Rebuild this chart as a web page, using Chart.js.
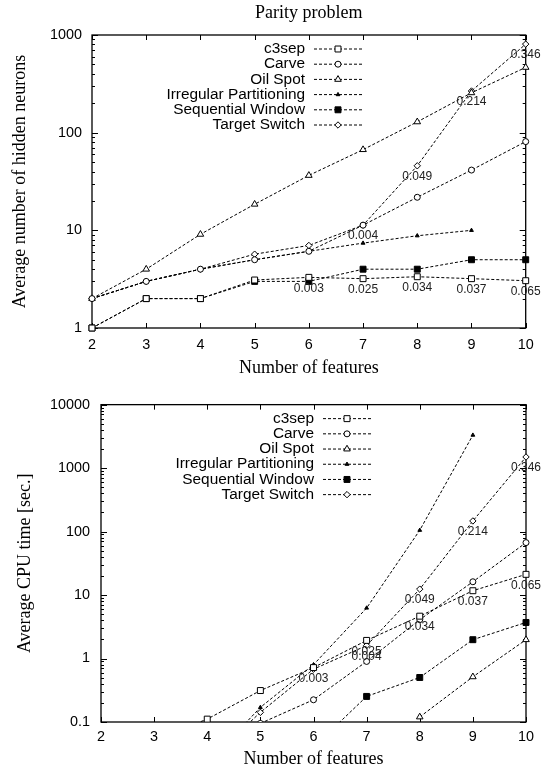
<!DOCTYPE html>
<html>
<head>
<meta charset="utf-8">
<title>Parity problem</title>
<script src="https://cdn.jsdelivr.net/npm/chart.js@4.4.1/dist/chart.umd.min.js"></script>
<style>
  body { margin: 0; background: #fff; }
  canvas { display: block; }
</style>
</head>
<body>
<canvas id="neuronsChart" width="542" height="385"></canvas>
<canvas id="cpuChart" width="542" height="385"></canvas>
<script>
const features = [2, 3, 4, 5, 6, 7, 8, 9, 10];
const seriesNames = ['c3sep', 'Carve', 'Oil Spot', 'Irregular Partitioning', 'Sequential Window', 'Target Switch'];

// Average number of hidden neurons
const c3sepNeurons = [1, 2, 2, 3.1, 3.3, 3.2, 3.35, 3.2, 3.05];
const carveNeurons = [2, 3, 4, 5, 6.1, 11.3, 21.8, 41.4, 81];
const oilSpotNeurons = [2, 4, 9.1, 18.5, 36.5, 67, 129, 256, 466];
const irregularNeurons = [2, 3, 4, 5, 6.1, 7.4, 8.8, 10, null];
const seqWindowNeurons = [1, 2, 2, 3, 3, 4, 4, 5, 5];
const targetNeurons = [2, 3, 4, 5.7, 7, 11.3, 45.8, 267, 807];

// Average CPU time [sec.]
const c3sepCpu = [null, 0.053, 0.111, 0.313, 0.72, 1.93, 4.65, 11.7, 21.2];
const carveCpu = [null, null, null, 0.095, 0.224, 0.9, 4.1, 16.2, 67];
const oilSpotCpu = [null, null, null, null, null, null, 0.12, 0.515, 1.98];
const irregularCpu = [null, null, 0.022, 0.17, 0.8, 6.25, 105, 3311, null];
const seqWindowCpu = [null, null, null, null, 0.04, 0.253, 0.503, 1.98, 3.7];
const targetCpu = [null, null, 0.023, 0.142, 0.68, 1.6, 12.4, 147, 1497];

// numbers printed under the c3sep and Target Switch points
const c3sepNotes = [null, null, null, null, '0.003', '0.025', '0.034', '0.037', '0.065'];
const targetNotes = [null, null, null, null, null, '0.004', '0.049', '0.214', '0.346'];

const neuronTicks = [1, 10, 100, 1000];
const cpuTicks = [0.1, 1, 10, 100, 1000, 10000];

const sansFont = '"Liberation Sans", Arial, sans-serif';
const serifFont = '"Liberation Serif", "Times New Roman", serif';

// gnuplot-like point types
const markers = [
    { pointStyle: 'rect', radius: 4.2, fill: '#fff' },
    { pointStyle: 'circle', radius: 3, fill: '#fff' },
    { pointStyle: 'triangle', radius: 3.8, fill: '#fff' },
    { pointStyle: 'triangle', radius: 2.2, fill: '#000' },
    { pointStyle: 'rect', radius: 4.2, fill: '#000' },
    { pointStyle: 'rectRot', radius: 3.2, fill: '#fff' }
];

function sameValue(a, b) {
    return Math.abs(Math.log10(a) - Math.log10(b)) < 1e-6;
}

// 1,2,...,9 in every decade between the labelled ticks
function logTicks(majors) {
    const out = [];
    for (let i = 0; i < majors.length - 1; i++) {
        for (let k = 1; k < 10; k++) out.push(majors[i] * k);
    }
    out.push(majors[majors.length - 1]);
    return out;
}

// box around the plot with inward ticks
const framePlugin = {
    id: 'frame',
    beforeDatasetsDraw(chart, args, opts) {
        const { ctx, chartArea: a, scales: { x, y } } = chart;
        ctx.save();
        ctx.strokeStyle = '#000';
        ctx.lineWidth = 1.3;
        ctx.strokeRect(a.left, a.top, a.width, a.height);
        ctx.lineWidth = 1;
        ctx.beginPath();
        x.ticks.forEach(t => {
            const px = Math.round(x.getPixelForValue(t.value)) + 0.5;
            ctx.moveTo(px, a.bottom); ctx.lineTo(px, a.bottom - 5);
            ctx.moveTo(px, a.top); ctx.lineTo(px, a.top + 5);
        });
        y.ticks.forEach(t => {
            const py = Math.round(y.getPixelForValue(t.value)) + 0.5;
            const len = opts.majors.some(m => sameValue(m, t.value)) ? 6 : 3;
            ctx.moveTo(a.left, py); ctx.lineTo(a.left + len, py);
            ctx.moveTo(a.right, py); ctx.lineTo(a.right - len, py);
        });
        ctx.stroke();
        ctx.restore();
    }
};

// key in the upper left, text right-aligned before the sample
const keyPlugin = {
    id: 'key',
    afterDatasetsDraw(chart) {
        const { ctx, chartArea: a } = chart;
        ctx.save();
        ctx.font = '15.4px ' + sansFont;
        ctx.textAlign = 'right';
        ctx.textBaseline = 'middle';
        chart.data.datasets.forEach((ds, i) => {
            const yy = a.top + 14 + i * 15.2;
            ctx.fillStyle = '#000';
            ctx.fillText(ds.label, a.left + 213, yy);
            ctx.strokeStyle = '#000';
            ctx.lineWidth = 1;
            ctx.setLineDash([3, 2]);
            ctx.beginPath();
            ctx.moveTo(a.left + 222, yy);
            ctx.lineTo(a.left + 270, yy);
            ctx.stroke();
            ctx.setLineDash([]);
            ctx.fillStyle = ds.pointBackgroundColor;
            Chart.helpers.drawPoint(ctx, {
                pointStyle: ds.pointStyle, radius: ds.pointRadius, rotation: 0, borderWidth: 1
            }, a.left + 246, yy);
        });
        ctx.restore();
    }
};

const notesPlugin = {
    id: 'notes',
    afterDatasetsDraw(chart) {
        const { ctx, scales: { x, y } } = chart;
        ctx.save();
        ctx.font = '12px ' + sansFont;
        ctx.fillStyle = '#222';
        ctx.textAlign = 'center';
        ctx.textBaseline = 'middle';
        chart.data.datasets.forEach(ds => {
            if (!ds.notes) return;
            ds.notes.forEach((n, i) => {
                const p = ds.data[i];
                if (!n || p.y == null) return;
                ctx.fillText(n, x.getPixelForValue(p.x), y.getPixelForValue(p.y) + 11);
            });
        });
        ctx.restore();
    }
};

const headingPlugin = {
    id: 'heading',
    afterDraw(chart, args, opts) {
        if (!opts.text) return;
        const { ctx, chartArea: a } = chart;
        ctx.save();
        ctx.font = '18px ' + serifFont;
        ctx.fillStyle = '#000';
        ctx.textAlign = 'center';
        ctx.textBaseline = 'middle';
        ctx.fillText(opts.text, (a.left + a.right) / 2, 13);
        ctx.restore();
    }
};

function buildChart(canvasId, values, yTicks, cfg) {
    const datasets = seriesNames.map((name, i) => ({
        label: name,
        data: features.map((f, j) => ({ x: f, y: values[i][j] })),
        borderColor: '#000',
        borderWidth: 1,
        borderDash: [3, 2],
        pointStyle: markers[i].pointStyle,
        pointRadius: markers[i].radius,
        pointBackgroundColor: markers[i].fill,
        pointBorderColor: '#000',
        pointBorderWidth: 1,
        tension: 0,
        clip: cfg.clip,
        notes: i === 0 ? c3sepNotes : (i === 5 ? targetNotes : null)
    }));

    return new Chart(document.getElementById(canvasId), {
        type: 'line',
        data: { datasets },
        options: {
            responsive: false,
            animation: false,
            events: [],
            layout: { padding: { top: cfg.top, right: 16, left: 0, bottom: 0 } },
            plugins: {
                legend: { display: false },
                tooltip: { enabled: false },
                frame: { majors: yTicks },
                heading: { text: cfg.heading }
            },
            scales: {
                x: {
                    type: 'linear',
                    min: 2,
                    max: 10,
                    grid: { display: false, drawTicks: false },
                    border: { display: false },
                    afterBuildTicks: s => { s.ticks = features.map(v => ({ value: v })); },
                    afterFit: s => { s.height = cfg.xHeight; },
                    ticks: {
                        color: '#000',
                        autoSkip: false,
                        maxRotation: 0,
                        padding: cfg.xPad,
                        font: { family: sansFont, size: 14.4 }
                    },
                    title: {
                        display: true,
                        text: 'Number of features',
                        color: '#000',
                        font: { family: serifFont, size: 18 },
                        padding: { top: 0, bottom: cfg.xTitlePad }
                    }
                },
                y: {
                    type: 'logarithmic',
                    min: yTicks[0],
                    max: yTicks[yTicks.length - 1],
                    grid: { display: false, drawTicks: false },
                    border: { display: false },
                    afterBuildTicks: s => { s.ticks = logTicks(yTicks).map(v => ({ value: v })); },
                    afterFit: s => { s.width = cfg.yWidth; },
                    ticks: {
                        color: '#000',
                        autoSkip: false,
                        padding: cfg.yPad,
                        font: { family: sansFont, size: 14.4 },
                        callback: v => {
                            const m = yTicks.find(t => sameValue(t, v));
                            return m === undefined ? '' : String(m);
                        }
                    },
                    title: {
                        display: true,
                        text: cfg.yTitle,
                        color: '#000',
                        font: { family: serifFont, size: 18 },
                        padding: { top: cfg.yTitlePad, bottom: 0 }
                    }
                }
            }
        },
        plugins: [framePlugin, keyPlugin, notesPlugin, headingPlugin]
    });
}

buildChart('neuronsChart',
    [c3sepNeurons, carveNeurons, oilSpotNeurons, irregularNeurons, seqWindowNeurons, targetNeurons],
    neuronTicks, {
        heading: 'Parity problem',
        yTitle: 'Average number of hidden neurons',
        top: 35, xHeight: 57, xPad: 8.3, xTitlePad: 6,
        yWidth: 92, yPad: 10, yTitlePad: 9,
        clip: false
    });

buildChart('cpuChart',
    [c3sepCpu, carveCpu, oilSpotCpu, irregularCpu, seqWindowCpu, targetCpu],
    cpuTicks, {
        yTitle: 'Average CPU time [sec.]',
        top: 14, xHeight: 48, xPad: 6.3, xTitlePad: 0,
        yWidth: 101, yPad: 11, yTitlePad: 14,
        clip: { left: 0, top: 0, right: 8, bottom: 0 }
    });
</script>
</body>
</html>
